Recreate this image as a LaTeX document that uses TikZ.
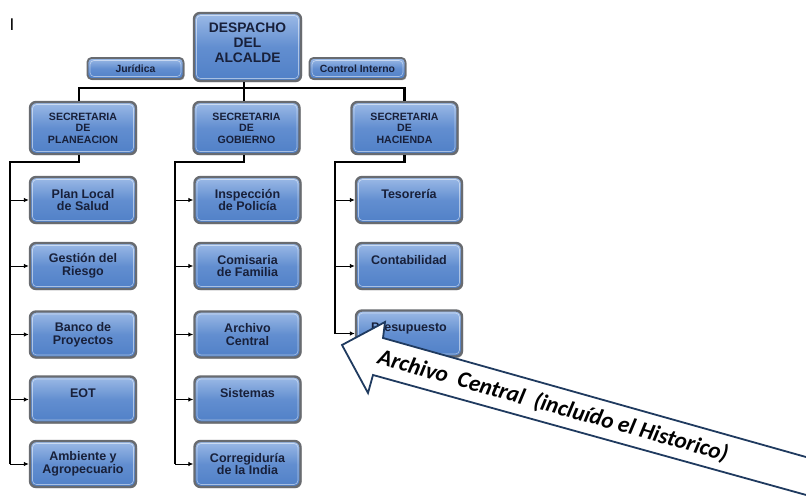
\documentclass[tikz,border=0pt]{standalone}
\usepackage{fontspec}
\setmainfont{Liberation Sans}
\newfontfamily\calib{Carlito}
\usetikzlibrary{shadows,arrows.meta,calc}

\definecolor{boxborder}{HTML}{686B70}
\definecolor{boxtop}{HTML}{9DBBE7}
\definecolor{boxmid}{HTML}{628ED0}
\definecolor{boxbot}{HTML}{5080C7}
\definecolor{boxtext}{HTML}{18203A}
\definecolor{arrowline}{HTML}{1F3A5F}

\tikzset{
  orgbox/.style={rectangle, rounded corners=6pt, draw=boxborder, line width=2.4pt,
    top color=boxtop, bottom color=boxbot, middle color=boxmid,
    text=boxtext, align=center, inner sep=0pt,
    drop shadow={shadow xshift=1pt, shadow yshift=-1.2pt, opacity=0.35, fill=black},
    path picture={\draw[white, opacity=0.5, line width=0.6pt, rounded corners=4pt]
      ([xshift=2.5pt,yshift=-2.5pt]path picture bounding box.north west) rectangle
      ([xshift=-2.5pt,yshift=2.5pt]path picture bounding box.south east);}},
  headbox/.style={orgbox, minimum width=107pt, minimum height=68pt,
    font=\bfseries\fontsize{13.8}{15}\selectfont},
  sidebox/.style={orgbox, rounded corners=4pt, line width=1.8pt, minimum width=96pt, minimum height=21pt,
    font=\bfseries\fontsize{10.4}{11}\selectfont},
  secbox/.style={orgbox, minimum width=106pt, minimum height=52pt,
    font=\bfseries\fontsize{10.6}{11.5}\selectfont},
  childbox/.style={orgbox, minimum width=106pt, minimum height=46pt,
    font=\bfseries\fontsize{12.5}{12.6}\selectfont},
  bar/.style={draw=black, line width=2.2pt},
  branch/.style={draw=black, line width=0.9pt, -{Latex[length=5pt,width=4.5pt]}},
  bigarrow/.style={draw=arrowline, line width=1.8pt, fill=white, line join=miter},
}

\begin{document}
\begin{tikzpicture}[x=1pt,y=-1pt]
\fill[white] (0,0) rectangle (806,497);
\useasboundingbox (0,0) rectangle (806,497);

\node[font=\fontsize{17}{17}\selectfont] (cursor) at (12,24.5) {I};

% top level
\node[headbox] (desp) at (247.5,47) {DESPACHO\\DEL\\ALCALDE\\[-7pt]~};
\node[sidebox] (jur) at (135.5,68.5) {Jurídica};
\node[sidebox] (ci) at (357.5,68.5) {Control Interno};

% secretarias
\node[secbox] (sp) at (83,128) {SECRETARIA\\DE\\PLANEACION};
\node[secbox] (sg) at (246.5,128) {SECRETARIA\\DE\\GOBIERNO};
\node[secbox] (sh) at (404.5,128) {SECRETARIA\\DE\\HACIENDA};

% left column
\node[childbox] (p1) at (83,200) {Plan Local\\de Salud};
\node[childbox] (p2) at (83,266) {Gestión del\\Riesgo};
\node[childbox] (p3) at (83,334.5) {Banco de\\Proyectos};
\node[childbox] (p4) at (83,399.5) {EOT\\~};
\node[childbox] (p5) at (83,464) {Ambiente y\\Agropecuario};

% middle column
\node[childbox] (g1) at (247.5,200) {Inspección\\de Policía};
\node[childbox] (g2) at (247.5,266) {Comisaria\\de Familia};
\node[childbox] (g3) at (247.5,334.5) {Archivo\\Central};
\node[childbox] (g4) at (247.5,399.5) {Sistemas\\~};
\node[childbox] (g5) at (247.5,464) {Corregiduría\\de la India};

% right column
\node[childbox] (h1) at (409,200) {Tesorería\\~};
\node[childbox] (h2) at (409,266) {Contabilidad\\~};
\node[childbox] (h3) at (409,333.5) {Presupuesto\\~};

% top connectors
\coordinate (tbar) at (244,88);
\draw[bar] ([xshift=-3.5pt]desp.south) -- (tbar);
\draw[bar] ([xshift=-4pt]sp.north) |- (tbar) -| (sh.north);
\draw[bar] ([xshift=-2.5pt]sg.north) -- ([xshift=-2.5pt]sg.north |- tbar);

% spines
\coordinate (lsp) at (10,162);
\coordinate (msp) at (175,162);
\coordinate (rsp) at (335,162);
\draw[bar] ([xshift=-4pt]sp.south) |- (lsp) -- (lsp |- p5.west);
\draw[bar] ([xshift=-2.5pt]sg.south) |- (msp) -- (msp |- g5.west);
\draw[bar] (sh.south) |- (rsp) -- (rsp |- h3.west);

\foreach \n in {p1,p2,p3,p4,p5} \draw[branch] (lsp |- \n.west) -- (\n.west);
\foreach \n in {g1,g2,g3,g4,g5} \draw[branch] (msp |- \n.west) -- (\n.west);
\foreach \n in {h1,h2,h3} \draw[branch] (rsp |- \n.west) -- (\n.west);

% block arrow
\draw[bigarrow] (342,345) -- (385,322) -- (383,338) -- (812,458.7)
  -- (812,496.6) -- (373,375) -- (368,393) -- cycle;
\node[rotate=-15.6, inner sep=0pt, font=\calib\bfseries\itshape\fontsize{23}{25}\selectfont] (note) at (553,406)
  {Archivo\ \ Central\ \ (incluído el Historico)};
\end{tikzpicture}
\end{document}
